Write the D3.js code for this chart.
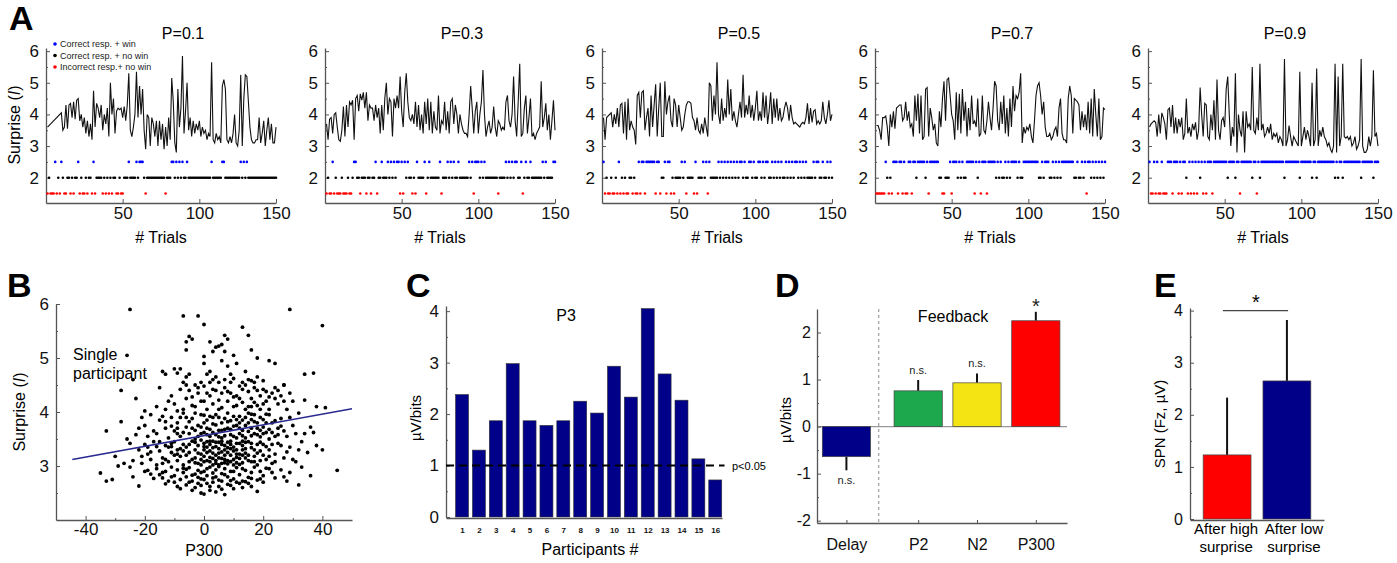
<!DOCTYPE html>
<html>
<head>
<meta charset="utf-8">
<script src="https://cdn.jsdelivr.net/npm/d3@7"></script>
<style>
body { margin: 0; background: #fff; }
svg { font-family: "Liberation Sans", Arial, sans-serif; }
</style>
</head>
<body>
<svg id="fig" width="1397" height="563"></svg>
<script>
// ---- panel A data: surprise per trial (null = no value drawn) and outcome per trial
// outcome codes: b = correct resp. + win, k = correct resp. + no win, r = incorrect resp. + no win
var probLabels = ["P=0.1", "P=0.3", "P=0.5", "P=0.7", "P=0.9"];

var surpriseP01 = [3.6, null, null, null, null, null, null, null, null, 4.05,
  3.5, 3.6, 4.3, 3.55, 4.3, 4.35, 3.9, 4.4, 3.85, 4.45,
  4.5, 3.8, 4.0, 3.6, 3.9, 3.4, 3.8, 3.3, 3.7, 3.2,
  4.75, 3.6, 4.35, 4.2, 3.9, 4.3, 3.5, 4.0, 3.7, 4.2,
  3.3, 5.0, 4.0, 4.5, 3.4, 4.1, 4.2, 4.15, 4.2, 3.9,
  4.25, 3.8, 4.3, 5.3, 3.5, 3.3, 3.6, 4.0, 5.35, 3.9,
  4.9, 4.0, 4.8, 3.5, 2.9, 4.0, 3.9, 3.0, 3.9, 3.7,
  3.3, 3.8, 3.0, 3.8, 3.2, 3.7, 2.9, 3.6, 3.0, 3.9,
  3.2, 5.15, 4.4, 3.1, 2.8, 4.8, 3.6, 4.2, 5.85, 3.4,
  4.1, 5.0, 3.5, 3.9, 3.3, 3.8, 3.4, 3.7, 3.5, 3.8,
  3.3, 3.6, 3.4, 3.5, 3.2, 3.4, 3.3, 5.65, 3.2, 3.1,
  3.4, 3.2, 3.3, 3.1, 4.9, 5.1, 4.8, 3.2, 3.1, 3.3,
  3.1, 3.4, 4.0, 3.1, 3.0, 3.5, 5.25, 3.0, 4.5, 5.25,
  5.2, 4.4, 3.6, 3.2, 3.1, 3.1, 3.2, 3.2, 3.9, 3.1,
  3.4, 3.8, 3.0, 3.5, 3.9, 3.2, 3.7, 3.1, 3.1, 3.6];

var surpriseP03 = [3.7, 3.2, 3.85, 3.9, 3.4, 4.0, 4.05, 3.6, 3.2, 3.15,
  3.5, 4.25, 3.3, 4.3, 3.6, 4.4, 4.3, 4.45, 3.2, 4.5,
  4.6, 4.1, 4.65, 4.45, 4.7, 4.2, 4.7, 3.8, 4.3, 4.2,
  4.2, 3.8, 4.3, 3.9, 4.2, 3.4, 4.3, 3.5, 4.5, 5.0,
  4.0, 4.5, 4.4, 3.3, 4.5, 4.2, 4.6, 4.2, 5.2, 4.1,
  3.6, 4.7, 5.3, 4.4, 3.9, 3.8, 4.0, 3.7, 4.4, 3.6,
  4.3, 3.5, 4.0, 3.4, 4.4, 3.7, 4.5, 3.5, 4.4, 3.4,
  4.1, 3.6, 3.5, 4.6, 3.4, 3.8, 3.7, 4.4, 3.5, 4.1,
  3.4, 4.4, 4.5, 3.7, 4.3, 4.0, 3.4, 4.0, 3.7, 3.5,
  3.4, 3.4, 3.3, 4.0, 4.9, 4.2, 3.4, 4.1, 4.4, 3.4,
  4.0, 4.4, 5.4, 4.0, 3.3, 3.6, 3.8, 3.4, 3.6, 4.25,
  3.6, 3.3, 3.8, 3.7, 3.5, 3.6, 3.5, 4.4, 4.6, 3.8,
  3.6, 4.0, 5.2, 3.8, 3.3, 4.4, 5.6, 3.3, 3.4, 4.2,
  4.6, 3.4, 3.9, 4.5, 3.3, 3.4, 3.2, 3.4, 3.5, 3.6,
  5.05, 3.6, 3.9, 4.35, 3.5, 4.0, 3.2, 3.8, 4.45, 3.5];

var surpriseP05 = [3.9, 3.2, 3.9, null, null, 4.05, 3.6, 4.0, 3.7, 4.2,
  3.6, 4.3, 4.35, 3.4, 4.4, 3.2, 4.5, 3.5, 3.8, 3.6,
  3.5, 3.05, 4.6, 4.7, 3.9, 4.7, 4.75, 3.5, 3.9, 4.2,
  3.3, 4.6, 3.6, 4.3, 4.95, 3.3, 4.2, 5.0, 3.3, 3.3,
  5.05, 4.0, 4.4, 4.6, 3.8, 3.6, 4.5, 4.3, 3.6, 4.3,
  3.9, 3.5, 3.6, 4.0, 4.3, 4.4, 4.4, 4.35, 3.9, 3.8,
  3.5, 3.9, 3.5, 3.4, 3.7, 3.4, 3.9, 3.6, 3.3, 5.0,
  4.9, 3.8, 4.6, 4.0, 5.65, 4.0, 3.7, 4.5, 3.8, 4.2,
  3.9, 5.1, 4.0, 4.8, 3.8, 4.1, 3.8, 3.6, 4.0, 4.4,
  3.9, 5.25, 3.9, 4.3, 4.0, 4.6, 3.9, 4.3, 3.8, 4.2,
  4.75, 3.8, 4.1, 3.8, 4.7, 3.9, 4.6, 3.7, 4.1, 4.7,
  3.7, 4.5, 3.9, 4.5, 3.8, 4.2, 3.8, 3.9, 4.2, 4.4,
  4.2, 3.8, 4.3, 3.9, 3.7, 3.75, 3.7, 3.65, 3.6, 3.7,
  3.75, 3.7, 3.9, 4.35, 3.7, 4.2, 3.75, 4.1, 4.15, 3.7,
  3.8, 3.7, 3.8, 4.4, 3.9, 3.7, 4.0, 4.45, 3.8, 4.0];

var surpriseP07 = [3.65, 3.65, 3.5, 3.2, 3.9, 3.9, 3.95, 3.6, 3.0, 4.0,
  3.6, 4.1, 3.55, 4.2, 4.25, 4.3, 4.3, 3.8, 3.9, 4.4,
  3.8, 4.1, 3.6, 3.7, 3.3, 4.6, 3.8, 4.65, 3.4, 4.6,
  3.2, 3.3, 4.8, 4.85, 3.3, 4.2, 3.9, 3.5, 3.7, 3.1,
  3.0, 4.1, 3.6, 4.5, 5.05, 3.8, 5.1, 5.15, 4.6, 4.0,
  3.8, 3.2, 4.7, 3.5, 4.65, 3.4, 4.8, 3.8, 4.4, 3.3,
  4.2, 3.5, 4.6, 3.7, 3.8, 3.6, 4.5, 3.3, 3.4, 4.6,
  3.5, 3.4, 3.8, 4.4, 3.9, 3.5, 4.2, 5.05, 4.9, 3.8,
  3.5, 4.4, 3.7, 4.6, 3.4, 4.2, 3.3, 4.5, 3.6, 4.9,
  4.1, 4.6, 4.5, 4.7, 5.3, 3.1, 3.6, 3.4, 3.6, 3.5,
  3.7, 3.3, 3.1, 3.8, 4.6, 4.9, 5.0, 4.6, 4.0, 4.4,
  3.6, 3.3, 3.3, 3.4, 3.2, 3.3, 3.5, 3.6, 3.3, 4.2,
  4.5, 3.4, 3.2, 3.2, 3.1, 4.5, 4.9, 4.6, 3.4, 4.5,
  4.45, 4.4, 4.3, 3.5, 4.1, 3.6, 4.0, 3.5, 4.4, 3.4,
  4.5, 3.3, 4.8, 4.0, 3.3, 4.5, 3.2, 3.3, 4.2, 4.15];

var surpriseP09 = [3.6, 3.7, 3.75, 3.8, 3.75, 3.3, 4.0, 3.4, 4.05, 3.9,
  3.7, 3.2, 4.15, 4.2, 3.6, 4.3, 3.4, 3.9, 3.4, 3.85,
  3.6, 3.9, 3.2, 3.4, 4.5, 3.4, 3.6, 3.3, 3.7, 3.5,
  3.75, 3.2, 3.5, 4.85, 4.0, 3.3, 4.35, 4.3, 3.3, 3.2,
  4.0, 3.5, 4.45, 3.2, 5.1, 3.5, 3.2, 3.8, 3.9, 3.6,
  4.8, 5.2, 4.0, 3.0, 3.6, 3.3, 5.3, 2.8, 4.0, 3.5,
  3.3, 4.1, 2.8, 4.1, 3.6, 3.7, 3.5, 5.5, 3.5, 3.4,
  3.9, 3.5, 5.6, 3.5, 3.7, 3.3, 3.4, 3.6, 3.4, 3.7,
  3.2, 3.4, 3.3, 3.4, 3.1, 3.3, 3.2, 3.0, 5.75, 3.0,
  3.2, 3.65, 3.3, 3.0, 3.3, 3.2, 3.1, 3.0, 5.35, 3.0,
  3.3, 3.6, 3.2, 3.5, 3.3, 3.0, 5.0, 3.0, 3.2, 5.45,
  3.0, 3.5, 3.3, 3.6, 3.3, 3.2, 3.0, 3.1, 2.9, 2.8,
  3.0, 5.6, 2.8, 5.2, 3.0, 3.3, 5.6, 3.3, 3.25, 3.3,
  3.2, 3.3, 3.0, 3.1, 3.3, 2.9, 3.0, 3.2, 5.75, 3.0,
  2.8, 2.8, 2.9, 3.3, 3.0, 3.3, 5.4, 3.3, 3.4, 3.0];

var outcomeP01 = "rkrrrbrkrb krrkkrkrkk brkrrkrkkr brkkkkrkrk rkrkkrrkrr kkkbkkkkbk bbbkrkkkkk kkkkkkkrkk kbbkbkbkbk kbkkkkkkkk kkkkkkkbkk kkkkbbkkkk kkkkkkbkbk bkkkkkkkkk kkkkkkkkkk";
var outcomeP03 = "rkrrbrkrrr krrrkrrkbb kkrkkkrkkr kkbrkkbkkk bkbkbkbbrb rbkbkkrkrb kkkkbrkbkk kkkkbrkkkb kbkbkkbkkk kkkbkbrbbb kbkbkkkkkk kkrkkkkbkb kbkbbkkbrk bkkbkkkkkk kbkbkkkkbb";
var outcomeP05 = "brkrrkrrkr brkrkrrkkr krrbrbbrbb bbbbrbbrkk brbbrkrkkk kbkbrkkkkr brkkkbkbrb kkkkkbkbkb kbkbkbkbkb bkbkkbbkbk kbbkbkbbkk bkbkbkbkkb kbkbkbbkbk bkbkkkkbkb bkkbkkbkbk";
var outcomeP07 = "rrrrrrbkrk rbbbrbbrbr rbbrbbkbbb bbkbrbbbbb bkkrrkkkbr bbbkbkbkkb bbbbrbkbrb bbrbbbbbkb kbkkbkbkbb bbkbkkbbbb bbbbbbkkbk bbbkkbkbkb kbbbbbbbbk kbkkbkbrbb kbkbkbkbkb";
var outcomeP09 = "brrbrbrrbr rrbbbrbbbr brbbkrbrbr brbkbrbrbb brbbbbbbbb bkbbbbkbbr bbbbbbbkbb rbkbbbbbbb bbbbbbbbkb bbbbbbbbkb bbbbbbkbbk bbbbbbbbbb bkbkbbkbbb bbbbbbbbkb bbbbbbkbbb";

var legendLabels = ["Correct resp. + win", "Correct resp. + no win", "Incorrect resp.+ no win"];

// ---- panel B data: single participant P300 vs surprise
var scatterP300 = [
  [-1,2.5],[0,2.48],[2,2.55],[4,2.52],[7,2.47],[-3,2.6],[5,2.62],[10,2.58],[13,2.6],[18,2.53],
  [-6,2.65],[1,2.68],[8,2.66],[-10,2.7],[15,2.68],[-13,2.67],[20,2.7],[-22,2.63],[32,2.65],[-4,2.55],
  [3,2.7],[11,2.7],[-8,2.58],[6,2.57],[-1,2.64],
  [-35,2.87],[-33,2.72],[-31,2.75],[-29,3.0],[-25,2.98],[-20,2.9],[-18,2.85],[-16,2.95],[-14,2.78],[-13,2.9],
  [-12,2.72],[-11,2.98],[-10,2.82],[-9,2.93],[-8,2.75],[-7,2.88],[-6,2.8],[-5,2.97],[-4,2.72],[-3,2.85],
  [-2,2.92],[-1,2.76],[0,2.9],[1,2.82],[2,2.98],[3,2.78],[4,2.93],[5,2.74],[6,2.86],[7,2.95],
  [8,2.8],[9,2.9],[10,2.76],[11,2.97],[12,2.84],[13,2.72],[14,2.92],[15,2.79],[16,2.88],[17,2.98],
  [18,2.74],[19,2.9],[20,2.82],[22,2.95],[24,2.78],[26,2.93],[27,2.8],[29,2.88],[33,2.98],[45,2.92],
  [-17,2.77],[-2,2.79],[5,2.99],[9,2.73],[14,2.71],[-6,2.94],[0,2.75],[21,2.96],[-15,2.84],[3,2.87],
  [-9,2.62],[-5,2.7],[-2,2.68],[2,2.62],[6,2.72],[9,2.64],[12,2.68],[16,2.62],[-14,2.88],[-11,2.8],
  [-7,2.96],[-4,2.83],[-1,2.88],[1,2.95],[4,2.8],[7,2.84],[10,2.9],[13,2.95],[16,2.77],[19,2.76],
  [23,2.88],[-19,2.92],[-24,2.8],[28,2.72],[36,2.82],
  [-30,3.18],[-27,3.05],[-24,3.1],[-22,3.3],[-21,3.05],[-20,3.4],[-19,3.22],[-18,3.12],[-17,3.45],[-16,3.02],
  [-15,3.28],[-14,3.15],[-13,3.38],[-12,3.08],[-11,3.25],[-10,3.45],[-9,3.1],[-8,3.32],[-7,3.02],[-6,3.2],
  [-5,3.4],[-4,3.12],[-3,3.3],[-2,3.05],[-1,3.22],[0,3.42],[1,3.1],[2,3.28],[3,3.02],[4,3.36],
  [5,3.15],[6,3.46],[7,3.06],[8,3.25],[9,3.4],[10,3.12],[11,3.3],[12,3.03],[13,3.2],[14,3.44],
  [15,3.1],[16,3.34],[17,3.18],[18,3.02],[19,3.28],[20,3.4],[21,3.12],[22,3.3],[23,3.05],[24,3.22],
  [25,3.42],[27,3.15],[29,3.35],[31,3.08],[33,3.45],[35,3.25],[-14,3.05],[-11,3.42],[-9,3.3],[-7,3.4],
  [-5,3.08],[-3,3.15],[-2,3.38],[-1,3.02],[0,3.18],[1,3.35],[2,3.08],[3,3.46],[4,3.2],[5,3.32],
  [6,3.05],[7,3.38],[8,3.1],[9,3.2],[10,3.35],[11,3.06],[12,3.42],[13,3.3],[14,3.15],[15,3.45],
  [16,3.08],[17,3.3],[18,3.4],[19,3.1],[20,3.2],[-6,3.35],[-4,3.46],[-8,3.18],[-12,3.35],[-15,3.45],
  [0,3.3],[2,3.4],[4,3.05],[6,3.26],[8,3.44],[10,3.02],[12,3.22],[14,3.32],[-1,3.48],[3,3.14],
  [7,3.2],[11,3.16],[-10,3.2],[1,3.45],[5,3.02],[9,3.08],[-3,3.44],[13,3.46],[-19,3.35],[26,3.38],
  [-13,3.12],[-11,3.36],[-9,3.22],[-7,3.28],[-5,3.25],[-3,3.06],[-2,3.24],[0,3.08],[0,3.36],[1,3.25],
  [2,3.16],[2,3.46],[3,3.34],[4,3.1],[4,3.44],[5,3.24],[6,3.14],[6,3.4],[7,3.3],[8,3.04],
  [8,3.34],[9,3.46],[10,3.28],[11,3.42],[12,3.14],[13,3.06],[14,3.24],[15,3.2],[16,3.42],[17,3.08],
  [18,3.24],[19,3.44],[21,3.36],[22,3.18],[23,3.4],[24,3.08],[-16,3.36],[-18,3.26],[-21,3.18],[28,3.26],
  [30,3.12],[32,3.3],[-25,3.42],[-1,3.12],[3,3.24],[5,3.44],[7,3.12],[9,3.32],[11,3.22],[13,3.38],
  [-33,3.65],[-28,3.82],[-23,3.58],[-20,3.75],[-18,3.95],[-16,3.6],[-15,3.85],[-13,3.7],[-12,3.52],[-11,3.9],
  [-10,3.65],[-9,3.8],[-8,3.55],[-7,3.98],[-6,3.72],[-5,3.6],[-4,3.88],[-3,3.5],[-2,3.75],[-1,3.95],
  [0,3.62],[1,3.85],[2,3.55],[3,3.78],[4,3.95],[5,3.66],[6,3.52],[7,3.88],[8,3.7],[9,3.58],
  [10,3.92],[11,3.75],[12,3.6],[13,3.85],[14,3.52],[15,3.98],[16,3.7],[17,3.82],[18,3.58],[19,3.9],
  [20,3.72],[21,3.62],[22,3.95],[23,3.8],[24,3.55],[26,3.88],[27,3.65],[30,3.75],[32,3.98],[34,3.6],
  [36,3.72],[38,3.38],[40,3.3],[-14,3.92],[-6,3.9],[-2,3.55],[2,3.92],[6,3.8],[10,3.55],[14,3.75],
  [18,3.8],[22,3.5],[-9,3.6],[-4,3.7],[0,3.8],[4,3.58],[8,3.98],[12,3.92],[16,3.56],[20,3.86],
  [-17,3.65],[-1,3.6],[3,3.62],[7,3.68],[11,3.52],[15,3.64],[19,3.66],[-11,3.74],[5,3.9],[9,3.84],
  [13,3.66],[17,3.95],[21,3.8],[25,3.7],[28,3.55],[-26,3.5],[-21,3.9],[-3,3.98],[1,3.7],[37,3.62],
  [-13,3.82],[-9,3.7],[-7,3.62],[-5,3.82],[-3,3.66],[-1,3.72],[1,3.58],[2,3.68],[3,3.9],[4,3.76],
  [5,3.54],[6,3.66],[7,3.56],[8,3.82],[9,3.68],[10,3.74],[11,3.86],[12,3.7],[13,3.56],[14,3.9],
  [15,3.8],[16,3.86],[17,3.6],[18,3.7],[19,3.54],[20,3.6],[21,3.96],[22,3.68],[23,3.62],[24,3.84],
  [25,3.58],[26,3.74],[29,3.9],[31,3.6],[-19,3.55],[-22,3.7],[-8,3.9],[0,3.94],[12,3.8],[16,3.96],
  [-28,4.4],[-23,4.25],[-16,4.1],[-15,4.45],[-13,4.05],[-11,4.3],[-10,4.15],[-8,4.42],[-7,4.05],[-6,4.25],
  [-5,4.4],[-3,4.1],[-2,4.35],[-1,4.2],[0,4.48],[1,4.05],[2,4.3],[3,4.15],[4,4.4],[5,4.22],
  [6,4.08],[7,4.45],[8,4.2],[9,4.35],[10,4.1],[11,4.3],[12,4.48],[13,4.18],[14,4.05],[15,4.38],
  [16,4.25],[17,4.45],[18,4.12],[19,4.3],[20,4.42],[21,4.2],[22,4.05],[23,4.35],[24,4.45],[25,4.15],
  [26,4.3],[27,4.5],[28,4.05],[30,4.2],[34,4.22],[38,4.1],[41,4.08],[-20,4.02],[-4,4.28],[0,4.2],
  [6,4.35],[12,4.25],[16,4.1],[20,4.15],[24,4.25],
  [-12,4.2],[-9,4.02],[-4,4.12],[-2,4.45],[1,4.35],[3,4.42],[5,4.05],[8,4.38],[10,4.28],[11,4.12],
  [13,4.42],[15,4.1],[17,4.18],[18,4.4],[19,4.05],[21,4.38],[22,4.28],[25,4.4],[27,4.2],[29,4.35],
  [14,4.5],[-6,4.5],[2,4.55],[9,4.55],
  [-24,4.6],[-14,4.75],[-13,4.7],[-10,4.8],[-9,4.72],[-8,4.8],[-7,4.55],[-5,4.7],[-3,4.5],[-1,4.55],
  [0,4.9],[1,4.7],[2,4.75],[3,4.6],[4,4.65],[5,4.55],[6,4.95],[7,4.6],[8,4.85],[9,4.7],
  [11,4.9],[13,4.55],[14,4.75],[15,4.6],[17,4.55],[18,4.65],[20,4.58],[22,4.95],[24,4.9],[27,4.5],
  [34,4.7],[37,4.72],[-6,4.65],[10,4.62],[16,4.58],
  [-26,5.05],[-25,5.9],[-6,5.3],[-6,5.15],[-5,5.4],[-4,5.35],[-7,5.78],[-2,5.78],[0,5.62],[0,5.03],
  [2,5.3],[3,5.12],[4,5.2],[5,5.22],[6,5.25],[7,5.12],[7,5.42],[8,5.35],[10,5.05],[13,5.57],
  [15,5.42],[16,5.15],[18,5.0],[29,5.9],[40,5.6]
];
var fitP300 = [-44.5, 50], fitSurprise = [3.12, 4.06];

// ---- panel C data: P3 slope per participant
var participants = d3.range(1, 17);
var p3Slopes = [2.38, 1.3, 1.87, 2.98, 1.87, 1.78, 1.87, 2.25, 2.02, 2.93, 2.33, 4.05, 2.78, 2.27, 1.13, 0.72];
var sigThreshold = 1;

// ---- panel D data: group slopes
var dNames = ["Delay", "P2", "N2", "P300"];
var dPos = [0, 1.22, 2.22, 3.22];
var dMeans = [-0.64, 0.76, 0.93, 2.25];
var dErrs = [0.29, 0.23, 0.2, 0.19];
var dSig = ["n.s.", "n.s.", "n.s.", "*"];
var dColors = ["#000088", "#1ea84e", "#f4e414", "#ff0000"];

// ---- panel E data: SPN after high / low surprise
var eNames = [["After high", "surprise"], ["After low", "surprise"]];
var eMeans = [1.23, 2.65];
var eErrs = [1.1, 1.17];
var eColors = ["#ff0000", "#000088"];

var svg = d3.select("#fig");
var axisColor = "#555";
var plain = function(d) { return String(d); };

function styleAxis(sel, size) {
  sel.attr("font-family", null).attr("font-size", size);
  sel.select(".domain").attr("stroke", axisColor).attr("stroke-width", 1.3);
  sel.selectAll(".tick line").attr("stroke", axisColor).attr("stroke-width", 1);
  sel.selectAll(".tick text").attr("fill", "#111");
}

function minorAxis(sel) {
  sel.select(".domain").remove();
  sel.selectAll(".tick line").attr("stroke", axisColor).attr("stroke-width", 1);
}

function panelLetter(txt, x, y) {
  svg.append("text").attr("x", x).attr("y", y)
     .attr("font-size", 34).attr("font-weight", "bold").text(txt);
}

function surpriseLabel(x, y) {
  var t = svg.append("text")
     .attr("transform", "translate(" + x + "," + y + ") rotate(-90)")
     .attr("text-anchor", "middle").attr("font-size", 16);
  t.append("tspan").text("Surprise (");
  t.append("tspan").attr("font-style", "italic").text("I");
  t.append("tspan").text(")");
}

// ================= panel A =================
var aLeft = [46, 325, 602, 875, 1148],
    aWidth = 230,
    aTop = 48,
    aBottom = 203;
var surpriseAll = [surpriseP01, surpriseP03, surpriseP05, surpriseP07, surpriseP09],
    outcomeAll = [outcomeP01, outcomeP03, outcomeP05, outcomeP07, outcomeP09];
var outcomeRow = {b: 2.5, k: 2, r: 1.5},
    outcomeColor = {b: "#0000ff", k: "#000000", r: "#ff0000"};

panelLetter("A", 9, 30);
surpriseLabel(20, 125);

aLeft.forEach(function(left, p) {
    var x = d3.scaleLinear().domain([0, 150]).range([left, left + aWidth]),
        y = d3.scaleLinear().domain([1.2, 6.1]).range([aBottom, aTop]);
    var g = svg.append("g").attr("class", "subA");

    g.append("g").attr("transform", "translate(0," + aBottom + ")")
     .call(d3.axisBottom(x).tickValues([50, 100, 150]).tickSize(-4).tickSizeOuter(0).tickPadding(4).tickFormat(plain))
     .call(styleAxis, 17);
    g.append("g").attr("transform", "translate(" + left + ",0)")
     .call(d3.axisLeft(y).tickValues([2, 3, 4, 5, 6]).tickSize(-4).tickSizeOuter(0).tickPadding(7).tickFormat(plain))
     .call(styleAxis, 17);
    g.append("g").attr("transform", "translate(" + left + ",0)")
     .call(d3.axisLeft(y).tickValues([2.5, 3.5, 4.5, 5.5]).tickSize(-2).tickFormat(""))
     .call(minorAxis);

    var codes = outcomeAll[p].replace(/ /g, "").split("");
    g.selectAll(".outcome").data(codes).enter().append("circle")
     .attr("class", "outcome")
     .attr("cx", function(d, i) { return x(i + 1); })
     .attr("cy", function(d) { return y(outcomeRow[d]); })
     .attr("r", 1.3)
     .attr("fill", function(d) { return outcomeColor[d]; });

    var pts = surpriseAll[p].map(function(v, i) { return [i + 1, v]; })
                            .filter(function(d) { return d[1] !== null; });
    g.append("path").datum(pts)
     .attr("d", d3.line().x(function(d) { return x(d[0]); }).y(function(d) { return y(d[1]); }))
     .attr("fill", "none").attr("stroke", "#111").attr("stroke-width", 1.1);

    g.append("text").attr("x", left + aWidth / 2 + 22).attr("y", 39)
     .attr("text-anchor", "middle").attr("font-size", 16).text(probLabels[p]);
    g.append("text").attr("x", left + aWidth / 2).attr("y", 243)
     .attr("text-anchor", "middle").attr("font-size", 16).text("# Trials");

    if (p === 0) {
        var lg = g.append("g");
        ["b", "k", "r"].forEach(function(c, i) {
            lg.append("circle").attr("cx", 55).attr("cy", 44 + i * 11.5).attr("r", 1.8).attr("fill", outcomeColor[c]);
            lg.append("text").attr("x", 60).attr("y", 47 + i * 11.5).attr("font-size", 9)
              .attr("fill", "#222").text(legendLabels[i]);
        });
    }
});

// ================= panel B =================
var bx = d3.scaleLinear().domain([-50, 50]).range([56, 352]),
    by = d3.scaleLinear().domain([2, 6]).range([520, 304]);
panelLetter("B", 7, 297);
surpriseLabel(25, 412);

svg.append("g").attr("transform", "translate(0,520)")
   .call(d3.axisBottom(bx).tickValues([-40, -20, 0, 20, 40]).tickSize(-4).tickSizeOuter(0).tickPadding(3).tickFormat(plain))
   .call(styleAxis, 17);
svg.append("g").attr("transform", "translate(0,520)")
   .call(d3.axisBottom(bx).tickValues([-30, -10, 10, 30]).tickSize(-2).tickFormat(""))
   .call(minorAxis);
svg.append("g").attr("transform", "translate(56,0)")
   .call(d3.axisLeft(by).tickValues([3, 4, 5, 6]).tickSize(-4).tickSizeOuter(0).tickPadding(7).tickFormat(plain))
   .call(styleAxis, 17);
svg.append("g").attr("transform", "translate(56,0)")
   .call(d3.axisLeft(by).tickValues([2.5, 3.5, 4.5, 5.5]).tickSize(-2).tickFormat(""))
   .call(minorAxis);

svg.append("g").selectAll("circle").data(scatterP300).enter().append("circle")
   .attr("cx", function(d) { return bx(d[0]); })
   .attr("cy", function(d) { return by(d[1]); })
   .attr("r", 1.9).attr("fill", "#000");

svg.append("line")
   .attr("x1", bx(fitP300[0])).attr("y1", by(fitSurprise[0]))
   .attr("x2", bx(fitP300[1])).attr("y2", by(fitSurprise[1]))
   .attr("stroke", "#2a2a90").attr("stroke-width", 1.6);

svg.append("text").attr("x", 73).attr("y", 360).attr("font-size", 16).text("Single");
svg.append("text").attr("x", 73).attr("y", 379).attr("font-size", 16).text("participant");
svg.append("text").attr("x", bx(0)).attr("y", 556).attr("text-anchor", "middle")
   .attr("font-size", 16).text("P300");

// ================= panel C =================
var cx = d3.scaleLinear().domain([0.05, 16.4]).range([446, 722]),
    cy = d3.scaleLinear().domain([0, 4.1]).range([517, 306]);
var cBarHalf = 0.385;
panelLetter("C", 406, 297);

svg.append("g").selectAll("rect").data(p3Slopes).enter().append("rect")
   .attr("x", function(d, i) { return cx(participants[i] - cBarHalf); })
   .attr("width", cx(1 + cBarHalf) - cx(1 - cBarHalf))
   .attr("y", function(d) { return cy(d); })
   .attr("height", function(d) { return cy(0) - cy(d); })
   .attr("fill", "#000088").attr("stroke", "#333").attr("stroke-width", 0.6);

svg.append("g").attr("transform", "translate(0," + (cy(0) + 1) + ")")
   .call(d3.axisBottom(cx).tickValues(participants).tickSize(0).tickSizeOuter(0).tickPadding(9).tickFormat(plain))
   .call(styleAxis, 8)
   .call(function(g) { g.selectAll(".tick text").attr("font-weight", "bold"); });
svg.append("g").attr("transform", "translate(446,0)")
   .call(d3.axisLeft(cy).tickValues([0, 1, 2, 3, 4]).tickSize(-4).tickSizeOuter(0).tickPadding(7).tickFormat(plain))
   .call(styleAxis, 17);
svg.append("g").attr("transform", "translate(446,0)")
   .call(d3.axisLeft(cy).tickValues([0.5, 1.5, 2.5, 3.5]).tickSize(-2).tickFormat(""))
   .call(minorAxis);

svg.append("line").attr("x1", cx(0.05)).attr("x2", cx(16.55))
   .attr("y1", cy(sigThreshold)).attr("y2", cy(sigThreshold))
   .attr("stroke", "#000").attr("stroke-width", 2).attr("stroke-dasharray", "8,5");
svg.append("text").attr("x", 732).attr("y", cy(sigThreshold) + 4).attr("font-size", 11).text("p<0.05");
svg.append("text").attr("x", 566).attr("y", 321).attr("text-anchor", "middle").attr("font-size", 16).text("P3");
svg.append("text").attr("x", 590).attr("y", 555).attr("text-anchor", "middle").attr("font-size", 16).text("Participants #");
svg.append("text").attr("transform", "translate(421,418) rotate(-90)")
   .attr("text-anchor", "middle").attr("font-size", 15).text("µV/bits");

// ================= panel D =================
var dx = d3.scaleLinear().domain([-0.5, 3.75]).range([817, 1067]),
    dy = d3.scaleLinear().domain([-2.05, 2.5]).range([523, 309]);
var dBarHalf = 0.41;
panelLetter("D", 775, 297);

svg.append("line").attr("x1", dx(-0.5)).attr("x2", dx(3.75)).attr("y1", dy(0)).attr("y2", dy(0))
   .attr("stroke", "#999").attr("stroke-width", 1.2);
svg.append("line").attr("x1", dx(0.55)).attr("x2", dx(0.55)).attr("y1", dy(2.5)).attr("y2", dy(-2.05))
   .attr("stroke", "#888").attr("stroke-width", 1).attr("stroke-dasharray", "3,3");

var dBars = svg.append("g").selectAll("g").data(dMeans).enter().append("g");
dBars.append("line")
   .attr("x1", function(d, i) { return dx(dPos[i]); })
   .attr("x2", function(d, i) { return dx(dPos[i]); })
   .attr("y1", function(d) { return dy(d); })
   .attr("y2", function(d, i) { return dy(d + Math.sign(d) * dErrs[i]); })
   .attr("stroke", "#111").attr("stroke-width", 2);
dBars.append("rect")
   .attr("x", function(d, i) { return dx(dPos[i] - dBarHalf); })
   .attr("width", dx(dBarHalf) - dx(-dBarHalf))
   .attr("y", function(d) { return dy(Math.max(0, d)); })
   .attr("height", function(d) { return Math.abs(dy(0) - dy(d)); })
   .attr("fill", function(d, i) { return dColors[i]; })
   .attr("stroke", "#444").attr("stroke-width", 0.7);
dBars.append("text")
   .attr("x", function(d, i) { return dx(dPos[i]); })
   .attr("y", function(d, i) {
       var tip = dy(d + Math.sign(d) * dErrs[i]);
       if (d < 0) return tip + 14;
       return dSig[i] === "*" ? tip + 1 : tip - 6;
   })
   .attr("text-anchor", "middle")
   .attr("font-size", function(d, i) { return dSig[i] === "*" ? 20 : 11; })
   .attr("fill", "#222")
   .text(function(d, i) { return dSig[i]; });

svg.append("g").attr("transform", "translate(0,523)")
   .call(d3.axisBottom(dx).tickValues(dPos).tickSize(-3).tickSizeOuter(0).tickPadding(16)
          .tickFormat(function(d, i) { return dNames[i]; }))
   .call(styleAxis, 16);
svg.append("g").attr("transform", "translate(817,0)")
   .call(d3.axisLeft(dy).tickValues([-2, -1, 0, 1, 2]).tickSize(-4).tickSizeOuter(0).tickPadding(6).tickFormat(plain))
   .call(styleAxis, 16);
svg.append("g").attr("transform", "translate(817,0)")
   .call(d3.axisLeft(dy).tickValues([-1.5, -0.5, 0.5, 1.5]).tickSize(-2).tickFormat(""))
   .call(minorAxis);

svg.append("text").attr("x", 953).attr("y", 322).attr("text-anchor", "middle").attr("font-size", 16).text("Feedback");
svg.append("text").attr("transform", "translate(791,420) rotate(-90)")
   .attr("text-anchor", "middle").attr("font-size", 15).text("µV/bits");

// ================= panel E =================
var ex = d3.scaleLinear().domain([-0.62, 1.62]).range([1190, 1324]),
    ey = d3.scaleLinear().domain([0, 4.05]).range([519, 308]);
var eBarHalf = 0.4;
panelLetter("E", 1154, 297);

var eBars = svg.append("g").selectAll("g").data(eMeans).enter().append("g");
eBars.append("line")
   .attr("x1", function(d, i) { return ex(i); })
   .attr("x2", function(d, i) { return ex(i); })
   .attr("y1", function(d) { return ey(d); })
   .attr("y2", function(d, i) { return ey(d + eErrs[i]); })
   .attr("stroke", "#111").attr("stroke-width", 2);
eBars.append("rect")
   .attr("x", function(d, i) { return ex(i - eBarHalf); })
   .attr("width", ex(eBarHalf) - ex(-eBarHalf))
   .attr("y", function(d) { return ey(d); })
   .attr("height", function(d) { return ey(0) - ey(d); })
   .attr("fill", function(d, i) { return eColors[i]; })
   .attr("stroke", "#444").attr("stroke-width", 0.7);

svg.append("g").attr("transform", "translate(0,520)")
   .call(d3.axisBottom(ex).tickValues([]).tickSizeOuter(0))
   .call(styleAxis, 16);
svg.append("g").attr("transform", "translate(1190,0)")
   .call(d3.axisLeft(ey).tickValues([0, 1, 2, 3, 4]).tickSize(-4).tickSizeOuter(0).tickPadding(7).tickFormat(plain))
   .call(styleAxis, 16);
svg.append("g").attr("transform", "translate(1190,0)")
   .call(d3.axisLeft(ey).tickValues([0.5, 1.5, 2.5, 3.5]).tickSize(-2).tickFormat(""))
   .call(minorAxis);

eNames.forEach(function(lines, i) {
    lines.forEach(function(t, j) {
        svg.append("text").attr("x", ex(i) + (i === 0 ? -1 : 7)).attr("y", 534 + j * 18)
           .attr("text-anchor", "middle").attr("font-size", 15).text(t);
    });
});

svg.append("line").attr("x1", ex(-0.07)).attr("x2", ex(1.02)).attr("y1", ey(4)).attr("y2", ey(4))
   .attr("stroke", "#444").attr("stroke-width", 1.2);
svg.append("text").attr("x", ex(0.48)).attr("y", ey(4) - 2).attr("text-anchor", "middle")
   .attr("font-size", 20).text("*");
svg.append("text").attr("transform", "translate(1165,424) rotate(-90)")
   .attr("text-anchor", "middle").attr("font-size", 15).text("SPN (Fz, µV)");
</script>
</body>
</html>
